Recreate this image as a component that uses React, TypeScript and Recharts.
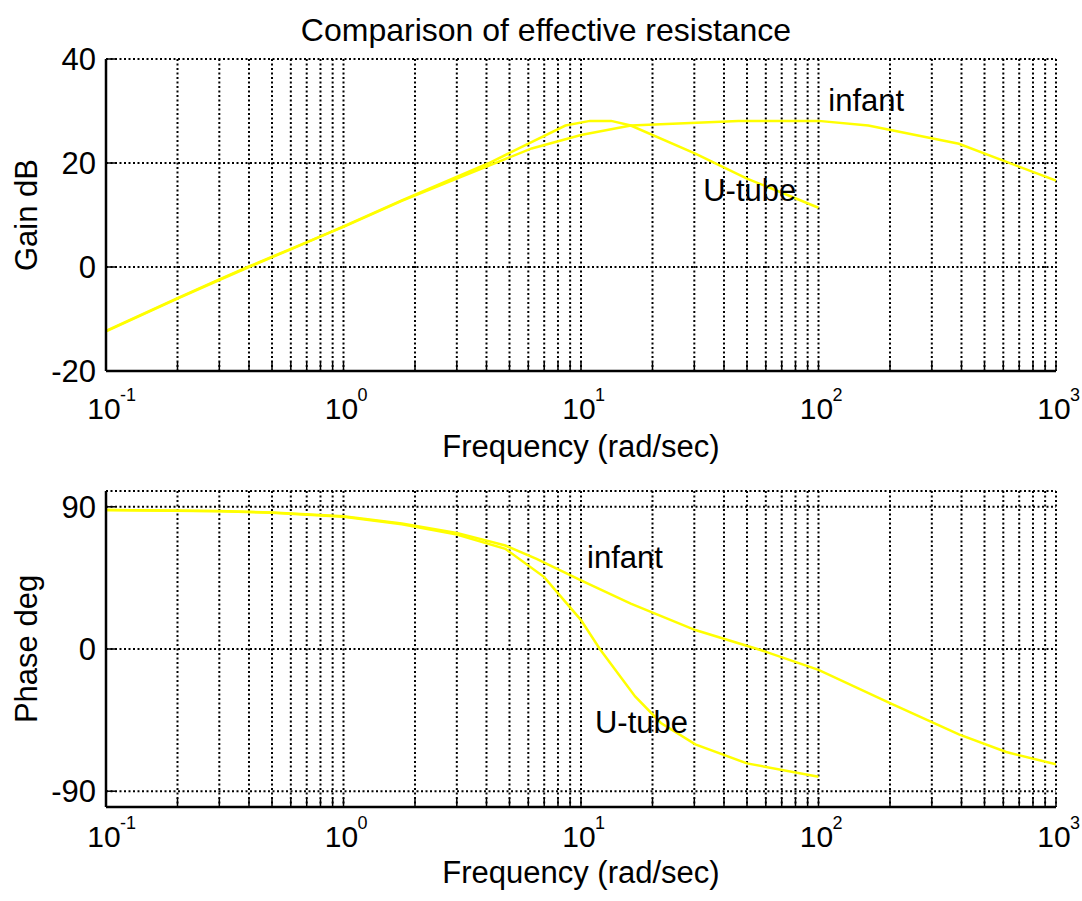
import React from 'react';
import {
  LineChart,
  Line,
  XAxis,
  YAxis,
  CartesianGrid,
  ReferenceDot,
} from 'recharts';

// frequency grid (rad/sec), decades 0.1..1000 with minor ticks
const X_TICKS = [
  0.1, 0.2, 0.3, 0.4, 0.5, 0.6, 0.7, 0.8, 0.9,
  1, 2, 3, 4, 5, 6, 7, 8, 9,
  10, 20, 30, 40, 50, 60, 70, 80, 90,
  100, 200, 300, 400, 500, 600, 700, 800, 900,
  1000,
];
const GAIN_TICKS = [-20, 0, 20, 40];
const PHASE_TICKS = [-90, 0, 90];

// gain (dB)
const UTUBE_GAIN_FREQ = [0.1, 0.2, 0.3, 0.4, 0.6, 1, 1.76, 4.06, 8.6, 10.9, 13.4, 16.2, 30.3, 50, 100];
const UTUBE_GAIN = [-12.4, -6.1, -2.5, 0, 3.4, 7.8, 12.8, 19.9, 27.2, 28.1, 28.1, 27.2, 21.8, 17, 11.4];
const INFANT_GAIN_FREQ = [0.1, 0.2, 0.3, 0.4, 0.6, 1, 1.76, 3, 6.2, 10, 16.2, 46, 100, 162, 390, 1000];
const INFANT_GAIN = [-12.3, -6.0, -2.4, 0.1, 3.5, 7.7, 12.7, 17.0, 22.8, 25.4, 27.2, 28.1, 28.1, 27.2, 23.7, 16.6];

// phase (deg)
const UTUBE_PHASE_FREQ = [0.1, 0.3, 0.5, 1, 1.76, 3, 4.8, 7, 10, 12, 16.9, 21.7, 30.3, 50, 100];
const UTUBE_PHASE = [88, 87.2, 86.3, 83.7, 79, 72.5, 63.4, 45.5, 18.3, 0, -30, -46.8, -60.4, -72.4, -80.8];
const INFANT_PHASE_FREQ = [0.1, 0.3, 0.5, 1, 1.76, 3, 4.8, 6.5, 10, 16.2, 30.3, 57, 100, 200, 390, 617, 1000];
const INFANT_PHASE = [88, 87.3, 86.4, 84, 79.5, 73.5, 65.5, 57, 43.4, 28.7, 12, -0.6, -13.2, -34.2, -54, -65.2, -73];

const FONT = '"Liberation Sans", Arial, Helvetica, sans-serif';
const YELLOW = '#ffff00';
const TICK_LEN = 9;

const toPoints = (freq: number[], vals: number[]) =>
  freq.map((w, i) => ({ w, v: vals[i] }));

const isDecade = (v: number) => {
  const l = Math.log10(v);
  return Math.abs(l - Math.round(l)) < 1e-6;
};

// bottom x axis: inward tick + 10^n label on decades
const BottomTick = (props: any) => {
  const { x, y, payload, labelDy } = props;
  const v = payload.value;
  const exp = Math.round(Math.log10(v));
  return (
    <g>
      <line x1={x} x2={x} y1={y} y2={y - TICK_LEN} stroke="#000" strokeWidth={1.5} />
      {isDecade(v) && (
        <g fontFamily={FONT} fill="#000">
          <text x={x - 2} y={y + labelDy} textAnchor="middle" fontSize={30}>
            10
          </text>
          <text x={x + 14} y={y + labelDy - 18} textAnchor="start" fontSize={18}>
            {exp}
          </text>
        </g>
      )}
    </g>
  );
};

const TopTick = (props: any) => {
  const { x, y } = props;
  return <line x1={x} x2={x} y1={y} y2={y + TICK_LEN} stroke="#000" strokeWidth={1.5} />;
};

const LeftTick = (props: any) => {
  const { x, y, payload } = props;
  return (
    <g>
      <line x1={x} x2={x + TICK_LEN} y1={y} y2={y} stroke="#000" strokeWidth={1.5} />
      <text x={x - 10} y={y + 11} textAnchor="end" fontSize={31} fontFamily={FONT} fill="#000">
        {payload.value}
      </text>
    </g>
  );
};

const RightTick = (props: any) => {
  const { x, y } = props;
  return <line x1={x} x2={x - TICK_LEN} y1={y} y2={y} stroke="#000" strokeWidth={1.5} />;
};

const textLabel = (text: string, size = 31) => (props: any) => {
  const { viewBox } = props;
  return (
    <text x={viewBox.cx ?? viewBox.x} y={viewBox.cy ?? viewBox.y} fontSize={size} fontFamily={FONT} fill="#000">
      {text}
    </text>
  );
};

interface PanelProps {
  height: number;
  marginTop: number;
  xAxisHeight: number;
  yDomain: [number, number];
  yTicks: number[];
  yLabel: string;
  tickLabelDy: number;
  xLabelDy: number;
  utube: { w: number; v: number }[];
  infant: { w: number; v: number }[];
  title?: string;
  notes: { text: string; w: number; v: number }[];
}

const Panel: React.FC<PanelProps> = ({
  height,
  marginTop,
  xAxisHeight,
  yDomain,
  yTicks,
  yLabel,
  tickLabelDy,
  xLabelDy,
  utube,
  infant,
  title,
  notes,
}) => {
  const plotTop = marginTop;
  const plotBottom = height - xAxisHeight;
  const midY = (plotTop + plotBottom) / 2;
  return (
    <LineChart width={1082} height={height} margin={{ top: marginTop, right: 26, bottom: 0, left: 0 }}>
      <CartesianGrid stroke="#000" strokeWidth={2} strokeDasharray="2 2.5" />
      <XAxis
        dataKey="w"
        type="number"
        scale="log"
        domain={[0.1, 1000]}
        allowDataOverflow
        ticks={X_TICKS}
        interval={0}
        height={xAxisHeight}
        tickSize={0}
        tickMargin={0}
        tickLine={false}
        axisLine={{ stroke: '#000', strokeWidth: 2.5 }}
        tick={<BottomTick labelDy={tickLabelDy} />}
        label={{
          content: () => (
            <text x={581} y={plotBottom + xLabelDy} textAnchor="middle" fontSize={31} fontFamily={FONT} fill="#000">
              Frequency (rad/sec)
            </text>
          ),
        }}
      />
      <XAxis
        xAxisId="top"
        orientation="top"
        dataKey="w"
        type="number"
        scale="log"
        domain={[0.1, 1000]}
        allowDataOverflow
        ticks={X_TICKS}
        interval={0}
        height={0}
        tickSize={0}
        tickMargin={0}
        tickLine={false}
        axisLine={{ stroke: '#000', strokeWidth: 2.5 }}
        tick={<TopTick />}
      />
      <YAxis
        type="number"
        domain={yDomain}
        allowDataOverflow
        ticks={yTicks}
        interval={0}
        width={106}
        tickSize={0}
        tickMargin={0}
        tickLine={false}
        axisLine={{ stroke: '#000', strokeWidth: 2.5 }}
        tick={<LeftTick />}
        label={{
          content: () => (
            <g fontFamily={FONT} fill="#000">
              <text
                x={37}
                y={midY}
                transform={`rotate(-90 37 ${midY})`}
                textAnchor="middle"
                fontSize={31}
              >
                {yLabel}
              </text>
              {title && (
                <text x={546} y={41} textAnchor="middle" fontSize={32}>
                  {title}
                </text>
              )}
            </g>
          ),
        }}
      />
      <YAxis
        yAxisId="right"
        orientation="right"
        type="number"
        domain={yDomain}
        allowDataOverflow
        ticks={yTicks}
        interval={0}
        width={0}
        tickSize={0}
        tickMargin={0}
        tickLine={false}
        axisLine={{ stroke: '#000', strokeWidth: 2.5 }}
        tick={<RightTick />}
      />
      <Line
        data={utube}
        dataKey="v"
        type="linear"
        stroke={YELLOW}
        strokeWidth={2.5}
        dot={false}
        isAnimationActive={false}
      />
      <Line
        data={infant}
        dataKey="v"
        type="linear"
        stroke={YELLOW}
        strokeWidth={2.5}
        dot={false}
        isAnimationActive={false}
      />
      {notes.map((n) => (
        <ReferenceDot
          key={n.text}
          x={n.w}
          y={n.v}
          r={0}
          fill="none"
          stroke="none"
          label={{ content: textLabel(n.text) }}
        />
      ))}
    </LineChart>
  );
};

const App: React.FC = () => {
  return (
    <div
      style={{
        position: 'absolute',
        left: 0,
        top: 0,
        width: 1082,
        height: 901,
        background: '#fff',
        fontFamily: FONT,
      }}
    >
      <div style={{ position: 'absolute', left: 0, top: 0 }}>
        <Panel
          height={480}
          marginTop={59}
          xAxisHeight={109}
          yDomain={[-20, 40]}
          yTicks={GAIN_TICKS}
          yLabel="Gain dB"
          tickLabelDy={48}
          xLabelDy={86}
          utube={toPoints(UTUBE_GAIN_FREQ, UTUBE_GAIN)}
          infant={toPoints(INFANT_GAIN_FREQ, INFANT_GAIN)}
          title="Comparison of effective resistance"
          notes={[
            { text: 'infant', w: 110, v: 30 },
            { text: 'U-tube', w: 32.7, v: 12.6 },
          ]}
        />
      </div>
      <div style={{ position: 'absolute', left: 0, top: 480 }}>
        <Panel
          height={421}
          marginTop={11}
          xAxisHeight={94}
          yDomain={[-100, 100]}
          yTicks={PHASE_TICKS}
          yLabel="Phase deg"
          tickLabelDy={40}
          xLabelDy={76}
          utube={toPoints(UTUBE_PHASE_FREQ, UTUBE_PHASE)}
          infant={toPoints(INFANT_PHASE_FREQ, INFANT_PHASE)}
          notes={[
            { text: 'infant', w: 10.6, v: 51 },
            { text: 'U-tube', w: 11.45, v: -53 },
          ]}
        />
      </div>
    </div>
  );
};

export default App;
